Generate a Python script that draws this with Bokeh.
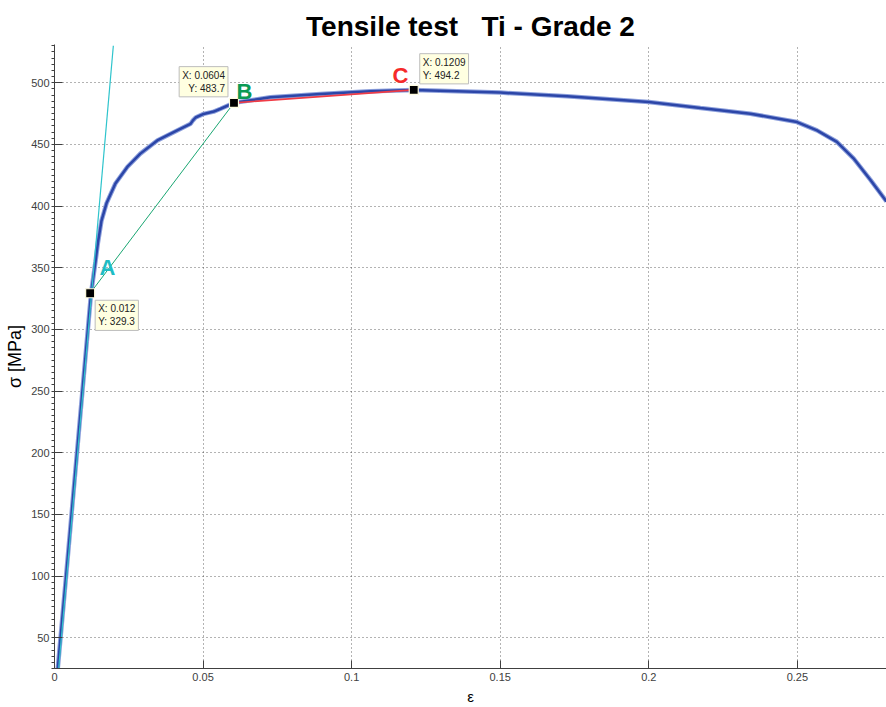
from bokeh.plotting import figure
from bokeh.models import Range1d, FixedTicker, Label
from bokeh.embed import file_html
from bokeh.resources import INLINE
from bokeh.core.properties import value

# ---- data ----
strain = [0.0011, 0.0039, 0.0123, 0.0131, 0.0138, 0.0146, 0.0158, 0.0175, 0.0205,
          0.0245, 0.0289, 0.0346, 0.0413, 0.0458, 0.0466, 0.0475, 0.0502, 0.0536, 0.0559,
          0.0604, 0.0727, 0.0895, 0.1063, 0.1209, 0.1500, 0.1725, 0.2000, 0.2174,
          0.2342, 0.2499, 0.2566, 0.2633, 0.2689, 0.2746, 0.2800]
stress = [25, 100, 329.3, 343.0, 355.0, 370.0, 388.0, 402.2, 418.3,
          431.7, 442.5, 453.2, 461.3, 466.7, 469.5, 471.8, 474.7, 476.6, 478.9,
          483.7, 488.2, 490.9, 493.0, 494.2, 492.0, 489.0, 484.4, 479.5,
          474.9, 468.1, 461.4, 452.1, 438.7, 421.2, 403.7]

modulus_eps = [0.0014, 0.0198]
modulus_sig = [25, 530]

pt_names = ["A", "B", "C"]
pt_eps = [0.012, 0.0604, 0.1209]
pt_sig = [329.3, 483.7, 494.2]
pt_tip = ["X: 0.012\nY: 329.3", "X: 0.0604\nY: 483.7", "X: 0.1209\nY: 494.2"]
pt_letter_eps = [0.0178, 0.0639, 0.1164]
pt_letter_sig = [350.5, 492.5, 506.0]
pt_colors = ["#1fbcc4", "#0a9a55", "#f52a2a"]

x_ticks = [0, 0.05, 0.1, 0.15, 0.2, 0.25]
x_tick_labels = ["0", "0.05", "0.1", "0.15", "0.2", "0.25"]
y_ticks = [50, 100, 150, 200, 250, 300, 350, 400, 450, 500]
y_minor = [v for v in range(25, 535, 5)]

FONT = "Liberation Sans"

p = figure(width=886, height=707, output_backend="svg", toolbar_location=None,
           x_range=Range1d(0, 0.28), y_range=Range1d(25, 531),
           min_border_left=54, min_border_right=0, min_border_top=44,
           min_border_bottom=37)
p.outline_line_color = None
p.background_fill_color = "white"
p.border_fill_color = "white"

p.title.text = "Tensile test\u00a0\u00a0\u00a0Ti - Grade 2"
p.title.align = "center"
p.title.text_font = FONT
p.title.text_font_size = "28px"
p.title.text_font_style = "bold"
p.title.text_color = "black"
p.title.standoff = 6

for ax in (p.xaxis[0], p.yaxis[0]):
    ax.axis_line_color = "#404040"
    ax.major_tick_line_color = "#404040"
    ax.minor_tick_line_color = "#404040"
    ax.major_tick_in = 8
    ax.major_tick_out = 0
    ax.major_label_text_font = FONT
    ax.major_label_text_font_size = "11px"
    ax.major_label_text_color = "#404040"
    ax.axis_label_text_font = FONT
    ax.axis_label_text_font_style = "normal"
    ax.axis_label_text_color = "black"
    ax.major_label_standoff = 4

p.xaxis.ticker = FixedTicker(ticks=x_ticks)
p.xaxis.major_label_overrides = {t: l for t, l in zip(x_ticks, x_tick_labels)}
p.xaxis.minor_tick_line_color = None
p.xaxis.axis_label = "ε"
p.xaxis.axis_label_text_font_size = "15px"
p.xaxis.axis_label_standoff = 4

p.yaxis.ticker = FixedTicker(ticks=y_ticks, minor_ticks=y_minor)
p.yaxis.minor_tick_in = 0
p.yaxis.minor_tick_out = 3
p.yaxis.major_label_standoff = 2
p.yaxis.axis_label = "σ [MPa]"
p.yaxis.axis_label_text_font_size = "18px"
p.yaxis.axis_label_standoff = 3

for g in (p.xgrid[0], p.ygrid[0]):
    g.grid_line_color = "#333333"
    g.grid_line_alpha = 0.75
    g.grid_line_dash = "1 3"
p.xgrid.ticker = FixedTicker(ticks=x_ticks)
p.ygrid.ticker = FixedTicker(ticks=y_ticks)

# curve
p.line(strain, stress, line_color="#8da0dc", line_width=4.5)
p.line(strain, stress, line_color="#2c46a8", line_width=2.5)

# construction lines
p.line(modulus_eps, modulus_sig, line_color="#2ec4cc", line_width=1.2)
p.line(pt_eps[0:2], pt_sig[0:2], line_color="#1aa672", line_width=1)
p.line(pt_eps[1:3], pt_sig[1:3], line_color="#f03c46", line_width=1.6)

# markers
p.scatter(pt_eps, pt_sig, marker="square", size=9, fill_color="black",
          line_color="#fffce0", line_width=1.2)

# letters
p.text(pt_letter_eps, pt_letter_sig, text=pt_names, text_color=pt_colors,
       text_font=value(FONT), text_font_size="22px", text_font_style="bold",
       text_align="center", text_baseline="middle")

# data tips
tip_style = dict(text_font=FONT, text_font_size="10px", text_color="#222222",
                 background_fill_color="#ffffe1", border_line_color="#bdbdbd",
                 padding=3)
p.add_layout(Label(x=pt_eps[0], y=pt_sig[0], text=pt_tip[0], x_offset=5, y_offset=-7,
                   text_align="left", text_baseline="top", **tip_style))
p.add_layout(Label(x=pt_eps[1], y=pt_sig[1], text=pt_tip[1], x_offset=-6, y_offset=6,
                   text_align="right", text_baseline="bottom", **tip_style))
p.add_layout(Label(x=pt_eps[2], y=pt_sig[2], text=pt_tip[2], x_offset=6, y_offset=6,
                   text_align="left", text_baseline="bottom", **tip_style))

open("out.html", "w").write(file_html(p, INLINE))
